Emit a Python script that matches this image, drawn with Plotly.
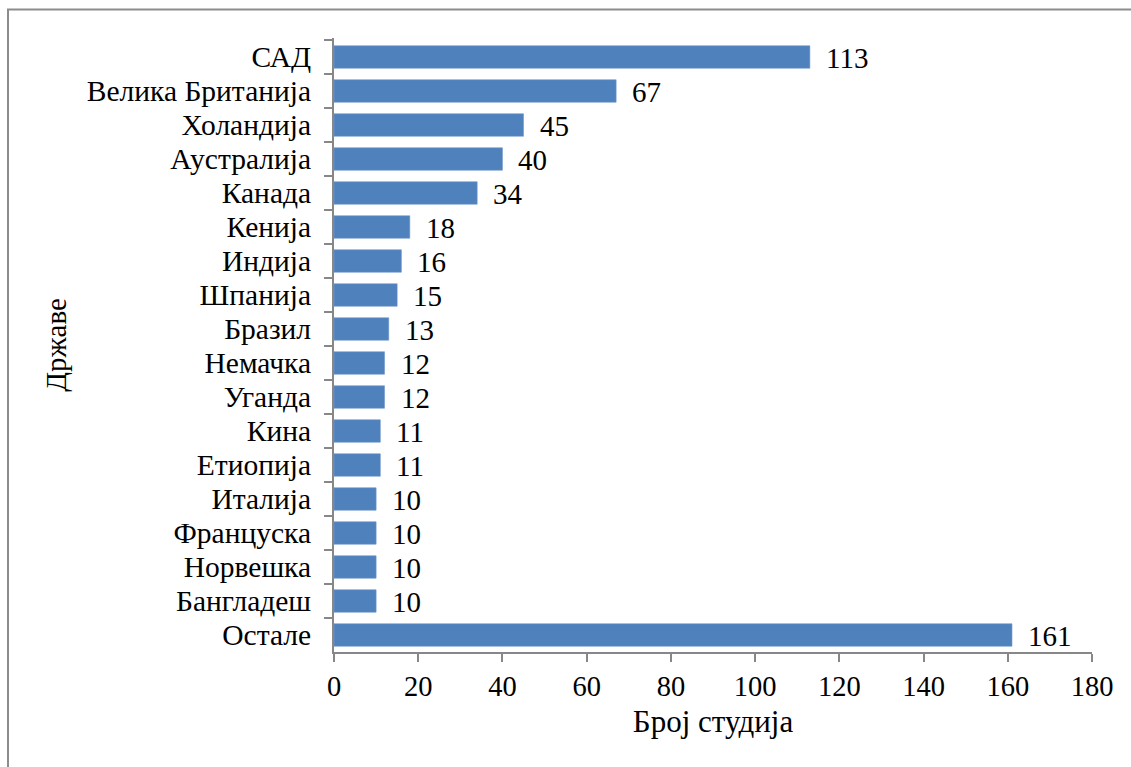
import plotly.graph_objects as go

countries = ["САД", "Велика Британија", "Холандија", "Аустралија", "Канада", "Кенија",
             "Индија", "Шпанија", "Бразил", "Немачка", "Уганда", "Кина", "Етиопија",
             "Италија", "Француска", "Норвешка", "Бангладеш", "Остале"]
studies = [113, 67, 45, 40, 34, 18, 16, 15, 13, 12, 12, 11, 11, 10, 10, 10, 10, 161]
x_ticks = [0, 20, 40, 60, 80, 100, 120, 140, 160, 180]

W, H = 1131, 767
ML, MR, MT, MB = 334, 39, 38, 115
pw, ph = W - ML - MR, H - MT - MB

FONT = "Liberation Serif"
AXIS_GREY = "#878787"

fig = go.Figure(go.Bar(
    x=studies, y=countries, orientation="h",
    marker=dict(color="#4F81BD", line=dict(color="#6F97CC", width=0.6)),
    hoverinfo="x+y",
))

# value labels just past the end of each bar
annotations = [
    dict(x=v, y=c, xref="x", yref="y", text=str(v), showarrow=False,
         xanchor="left", xshift=14, yshift=-1,
         font=dict(family=FONT, size=29, color="black"))
    for c, v in zip(countries, studies)
]

def px_x(p):
    return (p - ML) / pw

def px_y(p):
    return (H - MB - p) / ph

fig.update_layout(
    width=W, height=H,
    margin=dict(l=ML, r=MR, t=MT, b=MB, pad=0),
    paper_bgcolor="white", plot_bgcolor="white",
    font=dict(family=FONT, size=29, color="black"),
    bargap=0.34,
    showlegend=False,
    annotations=annotations,
    shapes=[dict(type="rect", xref="paper", yref="paper",
                 x0=px_x(8), x1=px_x(W + 20), y0=px_y(H + 20), y1=px_y(9.5),
                 line=dict(color="#8c8c8c", width=2), layer="below")],
    xaxis=dict(
        range=[0, 180], tickvals=x_ticks, ticktext=[str(t) for t in x_ticks],
        showgrid=False, zeroline=False,
        showline=True, linecolor=AXIS_GREY, linewidth=2,
        ticks="outside", ticklen=8, tickwidth=2, tickcolor=AXIS_GREY,
        tickfont=dict(family=FONT, size=28.5),
        title=dict(text="Број студија", font=dict(family=FONT, size=31), standoff=9),
    ),
    yaxis=dict(
        type="category", categoryorder="array", categoryarray=countries,
        autorange="reversed",
        tickmode="linear", tick0=0, dtick=1,
        showgrid=False, zeroline=False,
        showline=True, linecolor=AXIS_GREY, linewidth=2,
        ticks="outside", ticklen=8, tickwidth=2, tickcolor=AXIS_GREY,
        tickson="boundaries", ticklabelstandoff=15,
        tickfont=dict(family=FONT, size=29.5),
        title=dict(text="Државе", font=dict(family=FONT, size=29), standoff=12),
    ),
)

fig.write_html("out.html")
